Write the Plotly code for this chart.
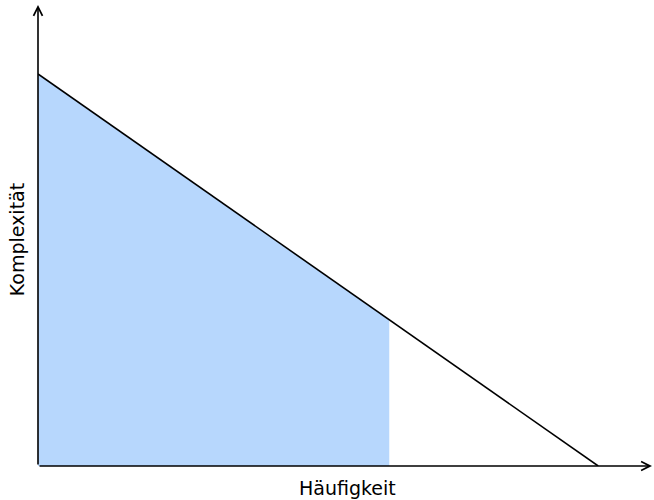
import plotly.graph_objects as go

# Data (abstract units)
line_x = [0.0, 1.0]          # Häufigkeit
line_y = [1.0, 0.0]          # Komplexität
fill_x = [0.0, 0.627]
fill_y = [1.0, 0.373]
x_label = "Häufigkeit"
y_label = "Komplexität"

X_MAX = 1.096
Y_MAX = 1.176

fig = go.Figure()
fig.add_trace(go.Scatter(x=fill_x, y=fill_y, mode="lines", fill="tozeroy",
                         fillcolor="rgb(183,215,253)", line=dict(width=0),
                         hoverinfo="skip", showlegend=False))
fig.add_trace(go.Scatter(x=line_x, y=line_y, mode="lines",
                         line=dict(color="black", width=1.6),
                         hoverinfo="skip", showlegend=False))

fig.update_layout(
    width=654, height=500,
    margin=dict(l=38, r=2, t=5, b=34),
    plot_bgcolor="white", paper_bgcolor="white",
    xaxis=dict(range=[0, X_MAX], visible=False, fixedrange=True),
    yaxis=dict(range=[0, Y_MAX], visible=False, fixedrange=True),
    showlegend=False,
)

# Axes with arrowheads
fig.add_annotation(x=X_MAX, y=0, ax=0, ay=0, xref="x", yref="y", axref="x", ayref="y",
                   showarrow=True, arrowhead=5, arrowsize=1.1, arrowwidth=1.6,
                   arrowcolor="black", text="")
fig.add_annotation(x=0, y=Y_MAX, ax=0, ay=0, xref="x", yref="y", axref="x", ayref="y",
                   showarrow=True, arrowhead=5, arrowsize=1.1, arrowwidth=1.6,
                   arrowcolor="black", text="")

font = dict(family="DejaVu Sans", size=19, color="black")
fig.add_annotation(text=x_label, xref="paper", yref="paper", x=0.504, y=-0.048,
                   yanchor="middle", xanchor="center", showarrow=False, font=font)
fig.add_annotation(text=y_label, xref="paper", yref="paper", x=-0.034, y=0.49,
                   textangle=-90, xanchor="center", yanchor="middle",
                   showarrow=False, font=font)

post = ("document.body.style.margin='0';document.body.style.overflow='hidden';"
        "var gd=document.getElementById('{plot_id}');Plotly.Plots.resize(gd);")
fig.write_html("out.html", post_script=post, config={"displayModeBar": False})
